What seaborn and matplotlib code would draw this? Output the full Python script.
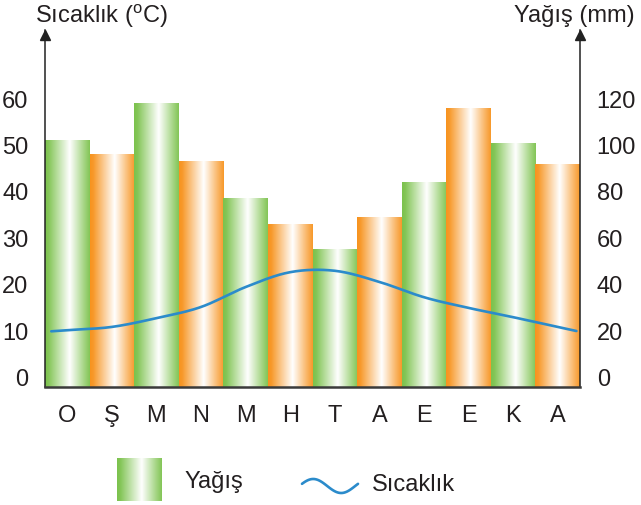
import numpy as np
import pandas as pd
import matplotlib
matplotlib.use("Agg")
import matplotlib.pyplot as plt
from matplotlib.lines import Line2D
from matplotlib.colors import to_rgb
import seaborn as sns

# Aylık iklim verileri
aylar = ["O", "Ş", "M", "N", "M", "H", "T", "A", "E", "E", "K", "A"]
yagis = [102, 96, 118, 93, 77, 66, 55, 69, 84, 116, 101, 92]          # mm
sicaklik = [10.2, 10.9, 12.8, 15.2, 19.5, 22.7, 23.0, 20.6, 17.3, 15.0, 13.0, 10.9]  # °C
sicaklik_ticks = [0, 10, 20, 30, 40, 50, 60]
yagis_ticks = [0, 20, 40, 60, 80, 100, 120]

YESIL = "#7cc24d"
TURUNCU = "#f7931e"
MAVI = "#2b8bcb"
YAZI = "#231f20"

sns.set_theme(style="white")
plt.rcParams["font.family"] = ["Liberation Sans", "DejaVu Sans"]
plt.rcParams["mathtext.fontset"] = "custom"
plt.rcParams["mathtext.rm"] = "Liberation Sans"
plt.rcParams["text.color"] = YAZI

FS = 17


def gradient(color, n=240):
    """Cylinder-like horizontal gradient: colour -> white highlight -> colour."""
    base = np.array(to_rgb(color))
    pos = np.linspace(0, 1, n)
    w = np.interp(pos, [0, 0.07, 0.55, 0.85, 1.0], [0.0, 0.05, 1.0, 0.35, 0.05])
    rgb = base[None, :] * (1 - w[:, None]) + w[:, None]
    return rgb[None, :, :]


fig = plt.figure(figsize=(6.41, 5.05), dpi=100)
fig.patch.set_facecolor("white")

# Precipitation axes (bars), ticks on the right
ax = fig.add_axes([45 / 641, 118 / 505, 535 / 641, 357 / 505])
df = pd.DataFrame({"ay": list(range(len(aylar))), "yagis": yagis})
sns.barplot(data=df, x="ay", y="yagis", ax=ax, width=1.0, color=YESIL,
            edgecolor="none", linewidth=0)

P_LO, P_HI = -4.1, 149.8
renkler = [YESIL if i % 2 == 0 else TURUNCU for i in range(len(aylar))]
for patch, renk in zip(ax.patches, renkler):
    x0 = patch.get_x()
    w = patch.get_width()
    top = patch.get_y() + patch.get_height()
    ax.imshow(gradient(renk), extent=[x0, x0 + w, P_LO, top], aspect="auto",
              interpolation="bilinear", zorder=2)
    patch.set_visible(False)

ax.set_xlim(-0.5, len(aylar) - 0.5)
ax.set_ylim(P_LO, P_HI)
ax.set_xticks(range(len(aylar)))
ax.set_xticklabels(aylar)
ax.set_xlabel("")
ax.set_ylabel("")
ax.tick_params(axis="x", length=0, pad=13, labelsize=FS, labelcolor=YAZI)

for side in ["left", "right"]:
    ax.spines[side].set_visible(True)
    ax.spines[side].set_color("#222222")
    ax.spines[side].set_linewidth(1.1)
ax.spines["bottom"].set_color("#3a3a3a")
ax.spines["bottom"].set_linewidth(1.8)
ax.spines["top"].set_visible(False)

# Temperature axes (line), ticks on the left
ax2 = ax.twinx()
T_LO, T_HI = P_LO / 2, P_HI / 2

# twinx moves the original ticks to the left; put precipitation back on the right
ax.yaxis.tick_right()
ax.yaxis.set_label_position("right")
ax.set_yticks(yagis_ticks)
ax.set_yticklabels([str(v) for v in yagis_ticks])
ax.tick_params(axis="y", which="both", left=False, right=True, labelleft=False,
               labelright=True, length=0, pad=12, labelsize=FS, labelcolor=YAZI)


def catmull_rom(x, y, n=24):
    pts = np.column_stack([x, y]).astype(float)
    p = np.vstack([2 * pts[0] - pts[1], pts, 2 * pts[-1] - pts[-2]])
    out = []
    t = np.linspace(0, 1, n, endpoint=False)[:, None]
    for i in range(1, len(p) - 2):
        p0, p1, p2, p3 = p[i - 1], p[i], p[i + 1], p[i + 2]
        seg = 0.5 * ((2 * p1) + (-p0 + p2) * t
                     + (2 * p0 - 5 * p1 + 4 * p2 - p3) * t ** 2
                     + (-p0 + 3 * p1 - 3 * p2 + p3) * t ** 3)
        out.append(seg)
    out.append(p[-2][None, :])
    return np.vstack(out)


xs = np.arange(len(sicaklik))
curve = catmull_rom(xs, sicaklik)
# short straight run-out beyond the first and last month
s0 = (curve[1, 1] - curve[0, 1]) / (curve[1, 0] - curve[0, 0])
s1 = (curve[-1, 1] - curve[-2, 1]) / (curve[-1, 0] - curve[-2, 0])
lead = np.array([[-0.36, curve[0, 1] - 0.36 * s0]])
tail = np.array([[len(sicaklik) - 1 + 0.42, curve[-1, 1] + 0.42 * s1]])
curve = np.vstack([lead, curve, tail])
sns.lineplot(x=curve[:, 0], y=curve[:, 1], ax=ax2, color=MAVI, linewidth=1.9,
             sort=False, estimator=None)

ax2.set_xlim(-0.5, len(aylar) - 0.5)
ax2.set_ylim(T_LO, T_HI)
ax2.yaxis.tick_left()
ax2.set_yticks(sicaklik_ticks)
ax2.set_yticklabels([str(v) for v in sicaklik_ticks])
ax2.set_ylabel("")
ax2.tick_params(axis="y", which="both", left=True, right=False, labelleft=True,
                labelright=False, length=0, pad=12, labelsize=FS, labelcolor=YAZI)
for side in ["left", "right", "top", "bottom"]:
    ax2.spines[side].set_visible(False)

# arrowheads on the vertical axes
for xa in (0, 1):
    ax2.plot([xa], [1 - 5 / 357], marker="^", markersize=7, color="#222222",
             transform=ax2.transAxes, clip_on=False, zorder=5)

# axis titles
fig.text(35 / 641, 1 - 16 / 505, "Sıcaklık ($^{\\mathrm{o}}$C)", fontsize=FS,
         ha="left", va="center")
fig.text(635 / 641, 1 - 16 / 505, "Yağış (mm)", fontsize=FS,
         ha="right", va="center")

# legend
lax = fig.add_axes([117 / 641, 4 / 505, 45 / 641, 43 / 505])
lax.imshow(gradient(YESIL), aspect="auto", interpolation="bilinear")
lax.set_axis_off()
fig.text(185 / 641, 1 - 482 / 505, "Yağış", fontsize=FS, ha="left", va="center")

t = np.linspace(0, 1, 80)
wx = (302 + 56 * t) / 641
wy = (505 - 486 + 7 * np.cos(2 * np.pi * (t - 0.2))) / 505
fig.add_artist(Line2D(wx, wy, color=MAVI, linewidth=1.9,
                      transform=fig.transFigure))
fig.text(372 / 641, 1 - 485 / 505, "Sıcaklık", fontsize=FS, ha="left", va="center")

fig.savefig("out.png", dpi=100, facecolor="white")
